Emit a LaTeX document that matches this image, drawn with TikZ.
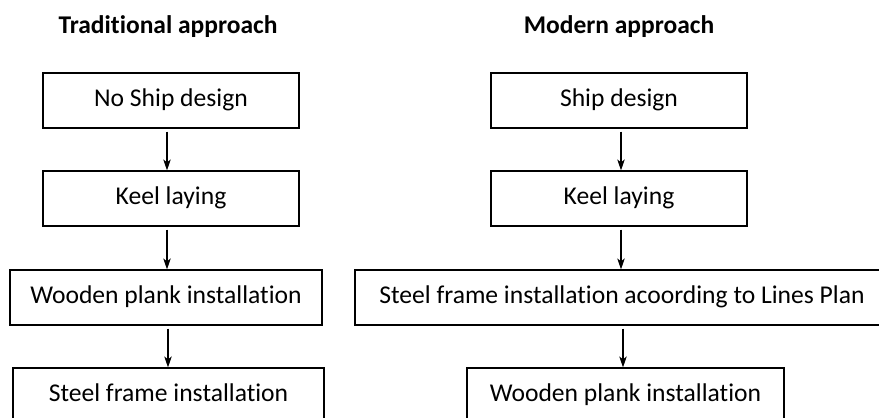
\documentclass[tikz,border=0pt]{standalone}
\usepackage{fontspec}
\setmainfont{Carlito}[Ligatures={NoCommon}]
\usetikzlibrary{arrows.meta}
\begin{document}
\begin{tikzpicture}[x=1pt,y=-1pt,
  stepbox/.style={draw=black,line width=1.2pt,rectangle,inner sep=0pt,
    font=\fontsize{25.6}{30}\selectfont,text height=19pt,text depth=6.4pt},
  titletext/.style={font=\bfseries\fontsize{25.5}{30}\selectfont,anchor=base,inner sep=0pt},
  arr/.style={line width=1.2pt,-{Stealth[length=11pt,width=7.5pt,inset=3pt]}}]
\clip (0,0) rectangle (879,418);
\fill[white] (0,0) rectangle (879,418);
% titles
\node[titletext] (t1) at (168,33.5) {Traditional approach};
\node[titletext] (t2) at (619,33.5) {Modern approach};
% left column
\node[stepbox,minimum width=256pt,minimum height=55pt] (l1) at (171,100.5) {No Ship design};
\node[stepbox,minimum width=256pt,minimum height=55pt] (l2) at (171,198.5) {Keel laying};
\node[stepbox,minimum width=312pt,minimum height=55pt] (l3) at (166,297.5) {Wooden plank installation};
\node[stepbox,minimum width=311pt,minimum height=55pt] (l4) at (168.5,395.5) {Steel frame installation};
% right column
\node[stepbox,minimum width=256pt,minimum height=55pt] (r1) at (619,100.5) {Ship design};
\node[stepbox,minimum width=256pt,minimum height=55pt] (r2) at (619,198.5) {Keel laying};
\node[stepbox,minimum width=534pt,minimum height=55pt] (r3) at (622,297.5) {Steel frame installation acoording to Lines Plan};
\node[stepbox,minimum width=317pt,minimum height=55pt] (r4) at (625.5,395.5) {Wooden plank installation};
% arrows
\draw[arr,shorten <=3pt] ([xshift=-4pt]l1.south) -- ([xshift=-4pt]l1.south |- l2.north);
\draw[arr,shorten <=3pt] ([xshift=-4pt]l2.south) -- ([xshift=-4pt]l2.south |- l3.north);
\draw[arr,shorten <=3pt] ([xshift=2pt]l3.south) -- ([xshift=2pt]l3.south |- l4.north);
\draw[arr,shorten <=3pt] ([xshift=2pt]r1.south) -- ([xshift=2pt]r1.south |- r2.north);
\draw[arr,shorten <=3pt] ([xshift=2pt]r2.south) -- ([xshift=2pt]r2.south |- r3.north);
\draw[arr,shorten <=3pt] ([xshift=1pt]r3.south) -- ([xshift=1pt]r3.south |- r4.north);
\end{tikzpicture}
\end{document}
